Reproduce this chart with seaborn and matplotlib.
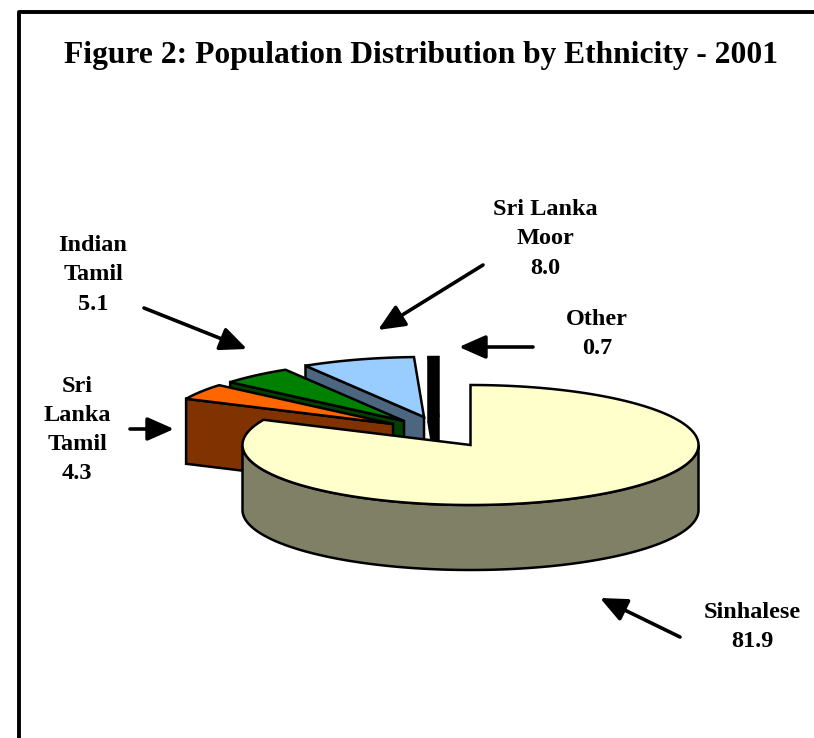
import numpy as np
import pandas as pd
import matplotlib
matplotlib.use("Agg")
import matplotlib.pyplot as plt
from matplotlib.colors import to_rgb
import seaborn as sns

# Population share by ethnicity, 2001
groups = ['Sinhalese', 'Sri Lanka Tamil', 'Indian Tamil', 'Sri Lanka Moor', 'Other']
shares = [81.9, 4.3, 5.1, 8.0, 0.7]
top_colors = ['#FFFFCC', '#FF6600', '#008000', '#99CCFF', '#000000']

df = pd.DataFrame({'group': groups, 'share': shares, 'color': top_colors})
df['end'] = df['share'].cumsum() / df['share'].sum() * 360
df['start'] = df['end'] - df['share'] / df['share'].sum() * 360

# Apex of each slice in pixels (the exploded ones sit up and to the left)
df['ax'] = [470.5, 393, 404, 424, 438.5]
df['ay'] = [445, 424, 421, 417, 417]

RX, RY, DEPTH = 228, 60, 65
BLACK = '#000000'

sns.set_theme(style="white")
plt.rcParams['font.family'] = ['Liberation Serif', 'DejaVu Serif']

fig, ax = plt.subplots(figsize=(8.14, 7.38), dpi=100)
fig.subplots_adjust(0, 0, 1, 1)
ax.set_xlim(0, 814)
ax.set_ylim(738, 0)
ax.axis('off')


def rim(row, a, b):
    t = np.radians(np.linspace(a, b, max(int(abs(b - a) * 2), 2)))
    return row.ax + RX * np.sin(t), row.ay - RY * np.cos(t)


# back to front
for i in [4, 3, 2, 1, 0]:
    row = df.iloc[i]
    side = tuple(v * 0.5 for v in to_rgb(row.color))
    if i == 0:
        # front wall of the big slice
        x, y = rim(row, 90, 270)
        ax.fill(np.r_[x, x[::-1]], np.r_[y, y[::-1] + DEPTH], fc=side, ec=BLACK, lw=1.8)
    else:
        x, y = rim(row, row.start, row.start)
        ox, oy = x[0], y[0]
        ax.fill([ox, row.ax, row.ax, ox], [oy, row.ay, row.ay + DEPTH, oy + DEPTH], fc=side, ec=BLACK, lw=1.8)
    x, y = rim(row, row.start, row.end)
    ax.fill(np.r_[row.ax, x], np.r_[row.ay, y], fc=row.color, ec=BLACK, lw=1.8)

# frame
ax.plot([19, 19, 830], [760, 11.5, 11.5], color=BLACK, lw=2.8, solid_joinstyle='round')

ax.text(421.5, 55, 'Figure 2: Population Distribution by Ethnicity - 2001', ha='center', va='center',
        fontsize=22.7, fontweight='bold', color=BLACK)

labels = ['Sri Lanka\nMoor\n8.0', 'Indian\nTamil\n5.1', 'Other\n0.7', 'Sinhalese\n81.9',
          'Sri\nLanka\nTamil\n4.3']
label_x = [545, 93, 597, 752, 77]
label_y = [239, 275, 334, 627, 430]
for s, x, y in zip(labels, label_x, label_y):
    ax.text(x, y, s, ha='center', va='center', multialignment='center', fontsize=17.5, fontweight='bold',
            linespacing=1.52, color=BLACK)

# leader arrows: tail -> head
tails = [(144, 308), (483, 265), (533, 347), (130, 429), (680, 637)]
heads = [(247, 349), (378, 330), (459, 347), (174, 429), (600, 598)]
for t, h in zip(tails, heads):
    ax.annotate('', xy=h, xytext=t,
                arrowprops=dict(arrowstyle='-|>,head_length=0.95,head_width=0.42', fc=BLACK, ec=BLACK, lw=2.6,
                                shrinkA=0, shrinkB=0, mutation_scale=17))

fig.savefig('out.png', dpi=100, facecolor='white')
